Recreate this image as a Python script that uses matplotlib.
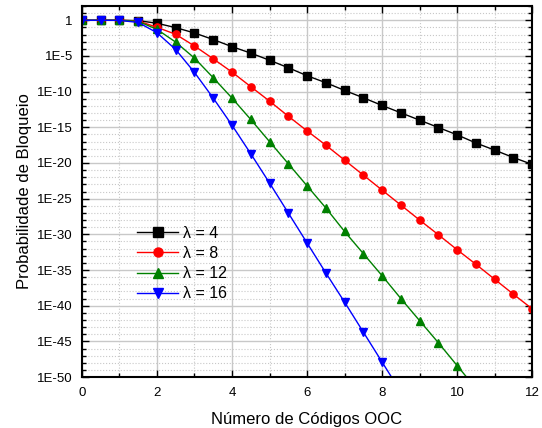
import matplotlib
matplotlib.use("Agg")
import matplotlib.pyplot as plt
import numpy as np
from matplotlib.ticker import FixedLocator, FixedFormatter, NullFormatter

plt.rcParams['font.family'] = ['Liberation Sans', 'DejaVu Sans']

# x positions (number of OOC codes)
x = [0, 0.5, 1, 1.5, 2, 2.5, 3, 3.5, 4, 4.5, 5, 5.5, 6, 6.5, 7, 7.5, 8,
     8.5, 9, 9.5, 10, 10.5, 11, 11.5, 12]

# log10 of blocking probability
log_l4 = [0, 0, 0, -0.05, -0.42, -1.03, -1.78, -2.7, -3.7, -4.6, -5.6,
          -6.65, -7.77, -8.75, -9.83, -10.86, -11.94, -12.97, -14.0, -15.03,
          -16.06, -17.2, -18.2, -19.24, -20.2]
log_l8 = [0, 0, 0, -0.1, -0.98, -1.97, -3.6, -5.4, -7.26, -9.3, -11.33,
          -13.44, -15.5, -17.5, -19.6, -21.7, -23.8, -25.9, -28.0, -30.06,
          -32.16, -34.2, -36.3, -38.4, -40.45]
log_l12 = [0, 0, 0, -0.15, -1.27, -3.06, -5.3, -8.05, -10.9, -13.9, -17.0,
           -20.1, -23.2, -26.3, -29.6, -32.7, -35.8, -39.0, -42.1, -45.2,
           -48.4, -51.6]
log_l16 = [0, 0, -0.02, -0.3, -1.74, -4.1, -7.3, -10.9, -14.7, -18.7, -22.8,
           -27.0, -31.2, -35.4, -39.5, -43.7, -47.9, -52.1]

series = [
    ("λ = 4", log_l4, "black", "s"),
    ("λ = 8", log_l8, "red", "o"),
    ("λ = 12", log_l12, "green", "^"),
    ("λ = 16", log_l16, "blue", "v"),
]

fig = plt.figure(figsize=(5.42, 4.28), dpi=100)
ax = fig.add_axes([0.151, 0.119, 0.831, 0.867])

for label, vals, color, marker in series:
    xs = x[:len(vals)]
    ys = 10.0 ** np.array(vals)
    ax.plot(xs, ys, color=color, marker=marker, markersize=5.2, linewidth=1,
            label=label)

ax.set_yscale("log")
ax.set_xlim(0, 12)
ax.set_ylim(1e-50, 1e2)

major_y = [10.0 ** -k for k in range(0, 51, 5)]
major_lbl = ["1"] + ["1E-%d" % k for k in range(5, 51, 5)]
ax.yaxis.set_major_locator(FixedLocator(major_y))
ax.yaxis.set_major_formatter(FixedFormatter(major_lbl))
ax.yaxis.set_minor_locator(FixedLocator([10.0 ** -k for k in range(-2, 51)
                                         if k % 5 != 0]))
ax.yaxis.set_minor_formatter(NullFormatter())
ax.set_xticks([0, 2, 4, 6, 8, 10, 12])
ax.set_xticks([1, 3, 5, 7, 9, 11], minor=True)

ax.tick_params(which="both", direction="in", top=True, right=True,
               labelsize=9.5, width=1)
ax.tick_params(which="major", length=5)
ax.tick_params(which="minor", length=3)
ax.tick_params(axis="x", which="major", pad=7.5)
ax.tick_params(axis="y", which="major", pad=6.5)

ax.grid(True, which="major", color="#c8c8c8", linewidth=1, linestyle="-")
ax.grid(True, which="minor", color="#c8c8c8", linewidth=0.8, linestyle=":")
ax.set_axisbelow(True)
for sp in ax.spines.values():
    sp.set_linewidth(1.5)

ax.set_xlabel("Número de Códigos OOC", fontsize=12, labelpad=9)
ax.set_ylabel("Probabilidade de Bloqueio", fontsize=12, labelpad=4)

ax.legend(loc="upper left", bbox_to_anchor=(0.09, 0.447), frameon=False,
          fontsize=11.5, handlelength=2.6, handletextpad=0.3,
          labelspacing=0.33, markerscale=1.25)

fig.savefig("out.png", dpi=100)
